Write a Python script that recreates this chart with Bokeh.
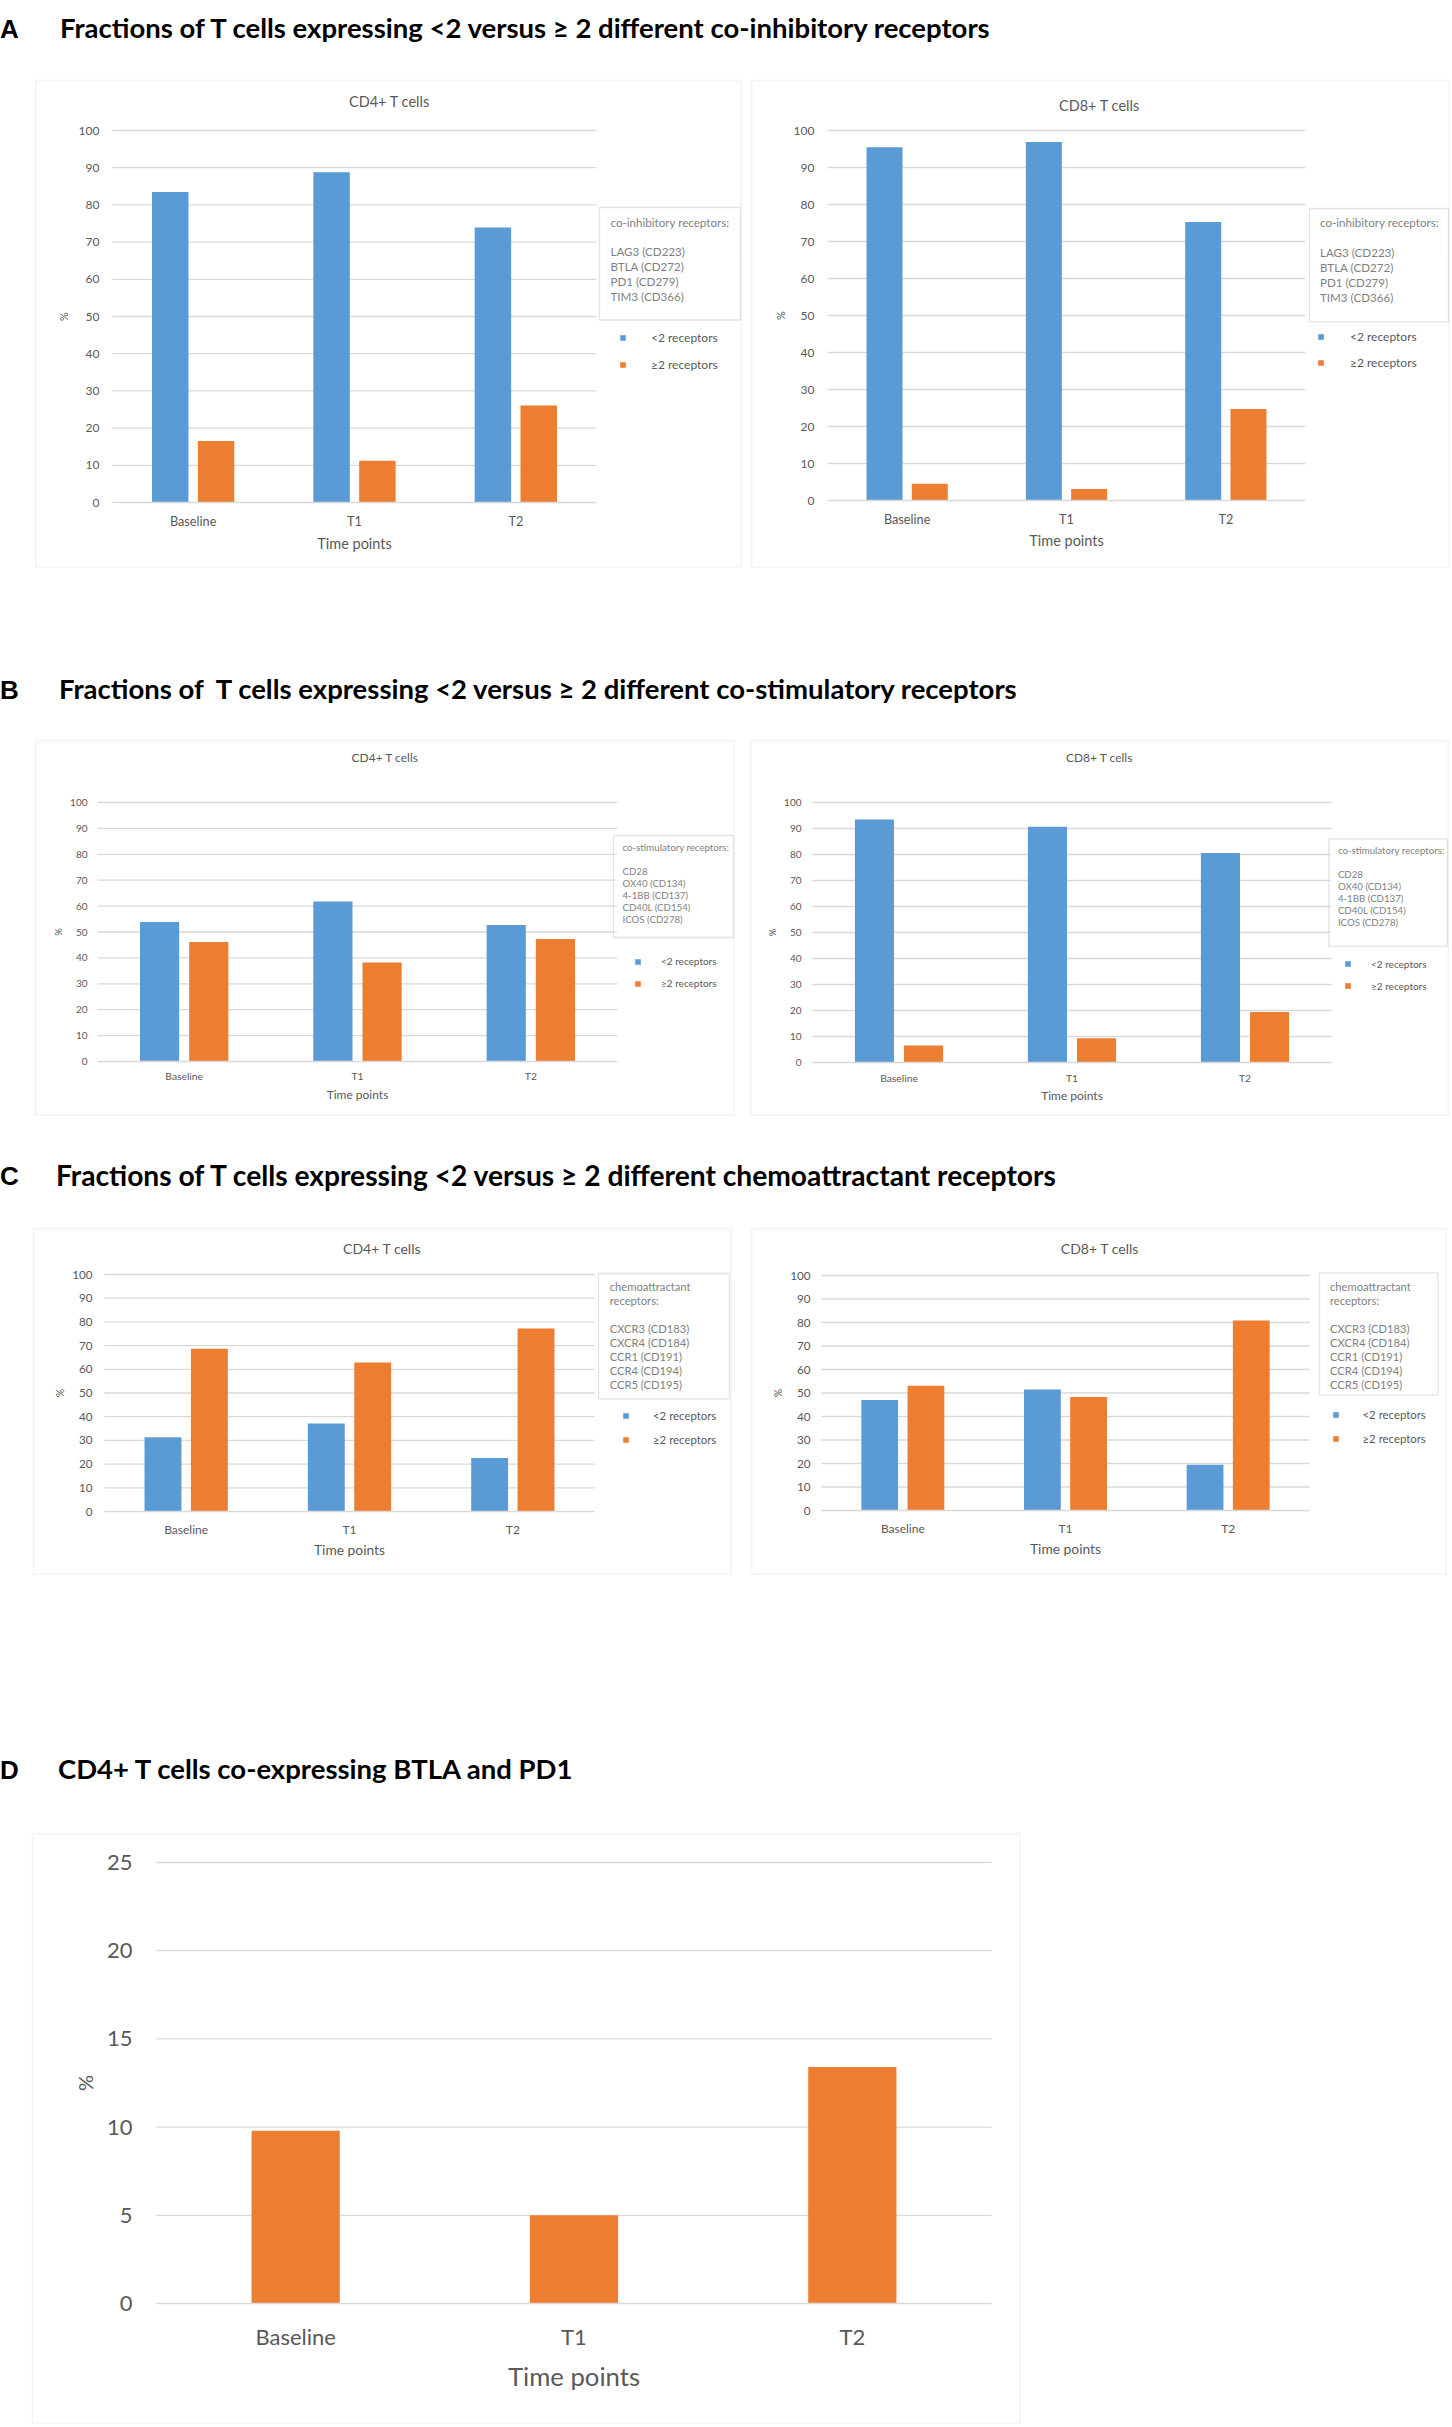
import math
from bokeh.plotting import figure
from bokeh.models import (ColumnDataSource, Range1d, FixedTicker, Legend,
                          LegendItem, Label, BoxAnnotation, Div, Spacer)
from bokeh.layouts import column, row
from bokeh.transform import dodge
from bokeh.embed import file_html
from bokeh.resources import INLINE

# ---------------- data ----------------
time_points = ["Baseline", "T1", "T2"]
series_names = ["<2 receptors", "\u22652 receptors"]

inhib_cd4_lt2 = [83.5, 88.8, 73.9]
inhib_cd4_ge2 = [16.5, 11.2, 26.1]
inhib_cd8_lt2 = [95.5, 96.9, 75.3]
inhib_cd8_ge2 = [4.5, 3.1, 24.7]

stim_cd4_lt2 = [53.9, 61.8, 52.7]
stim_cd4_ge2 = [46.1, 38.2, 47.3]
stim_cd8_lt2 = [93.5, 90.7, 80.6]
stim_cd8_ge2 = [6.5, 9.3, 19.4]

chemo_cd4_lt2 = [31.3, 37.1, 22.6]
chemo_cd4_ge2 = [68.7, 62.9, 77.2]
chemo_cd8_lt2 = [47.0, 51.5, 19.5]
chemo_cd8_ge2 = [53.1, 48.3, 80.8]

btla_pd1_cd4 = [9.8, 5.0, 13.4]

pct_ticks = [0, 10, 20, 30, 40, 50, 60, 70, 80, 90, 100]
d_ticks = [0, 5, 10, 15, 20, 25]

inhib_heading = ["co-inhibitory receptors:"]
inhib_receptors = ["LAG3 (CD223)", "BTLA (CD272)", "PD1 (CD279)", "TIM3 (CD366)"]
stim_heading = ["co-stimulatory receptors:"]
stim_receptors = ["CD28", "OX40 (CD134)", "4-1BB (CD137)", "CD40L (CD154)", "ICOS (CD278)"]
chemo_heading = ["chemoattractant", "receptors:"]
chemo_receptors = ["CXCR3 (CD183)", "CXCR4 (CD184)", "CCR1 (CD191)", "CCR4 (CD194)", "CCR5 (CD195)"]

panel_titles = ["CD4+ T cells", "CD8+ T cells"]
x_title = "Time points"
y_title = "%"
section_letters = ["A", "B", "C", "D"]
section_titles = [
    "Fractions of T cells expressing &lt;2 versus \u2265 2 different co-inhibitory receptors",
    "Fractions of&nbsp; T cells expressing &lt;2 versus \u2265 2 different co-stimulatory receptors",
    "Fractions of T cells expressing &lt;2 versus \u2265 2 different chemoattractant receptors",
    "CD4+ T cells co-expressing BTLA and PD1",
]

# ---------------- styles / geometry ----------------
BLUE = "#5B9BD5"
ORANGE = "#ED7D31"
GREY = "#595959"
LIGHT = "#7f7f7f"
GRID = "#d9d9d9"
BOXLINE = "#a6a6a6"
FONT = "Lato"
BAR_OFF = 0.142
BAR_W = 0.226
N_CAT = len(time_points)

FS = {
    "A": dict(tick=12, cat=12.7, title=14.5, xlab=14.5, ylab=11, box=11.6, leg=12),
    "B": dict(tick=10, cat=10.3, title=12, xlab=12, ylab=9.5, box=9.7, leg=10),
    "C": dict(tick=11.7, cat=12, title=14, xlab=13.8, ylab=10.5, box=11.2, leg=11.4),
    "D": dict(tick=22, cat=22, xlab=25.7, ylab=20),
}

# size = (W, H, plot_left, plot_top, plot_w, plot_h)  -- plot = gridline area (canvas px)
GEO = {
    "AL": dict(size=(708, 489, 78, 51, 484, 372), title=(355, 22.2), ystand=13, ylab_d=49, cat_d=18, xlab_d=41,
               tbox=(565, 128, 706, 240.5), tx=576, ty=143, tpitch=14.7,
               leg=(585, 259.3, 26.4), ltx=617),
    "AR": dict(size=(700, 489, 77, 51, 478, 370), title=(349, 25.8), ystand=13, ylab_d=47, cat_d=17.5, xlab_d=39.5,
               tbox=(559, 129, 698, 242.4), tx=569.5, ty=142.5, tpitch=15,
               leg=(567, 258.5, 25.5), ltx=600.5),
    "BL": dict(size=(701, 377, 63, 63, 520, 259), title=(350.6, 18), ystand=10, ylab_d=39.4, cat_d=14.6, xlab_d=32.6,
               tbox=(579, 96, 699, 198), tx=588, ty=107.7, tpitch=12,
               leg=(600, 222.5, 21.8), ltx=626.7),
    "BR": dict(size=(700, 377, 63, 63, 519, 260), title=(350, 18), ystand=11, ylab_d=39.8, cat_d=14.7, xlab_d=33,
               tbox=(579.4, 99.3, 698, 206.7), tx=588.4, ty=110.3, tpitch=12,
               leg=(595, 224.9, 21.8), ltx=622),
    "CL": dict(size=(700, 348, 72, 47, 490, 237), title=(349.7, 20.6), ystand=12, ylab_d=44.6, cat_d=17, xlab_d=38,
               tbox=(566, 46, 697, 171.3), tx=577.2, ty=58.6, tpitch=14,
               leg=(590, 187.7, 24.9), ltx=621),
    "CR": dict(size=(697, 348, 71, 48, 488, 235), title=(349.5, 21.4), ystand=11, ylab_d=43.5, cat_d=17, xlab_d=38,
               tbox=(569, 45.4, 687.5, 167.4), tx=579.5, ty=58.7, tpitch=14,
               leg=(581.5, 186.4, 24.6), ltx=612),
    "D": dict(size=(990, 592, 125, 30, 835, 441), ystand=24, ylab_d=72, cat_d=32, xlab_d=72.5),
}


def canvas_label(p, x, y, text, size, color, align="left", angle=0.0):
    p.add_layout(Label(x=x, y=y, x_units="canvas", y_units="canvas", text=text,
                       text_align=align, text_baseline="middle", text_font=FONT,
                       text_font_size=f"{size}px", text_color=color, angle=angle))


def canvas_box(p, x0, y0, x1, y1, line_color, line_width, fill_color=None):
    p.add_layout(BoxAnnotation(left=x0, right=x1, top=y0, bottom=y1,
                               left_units="canvas", right_units="canvas",
                               top_units="canvas", bottom_units="canvas",
                               fill_color=fill_color, line_color=line_color,
                               line_width=line_width))


def new_fig(g, y_max):
    """The frame covers the whole chart box; the axes are pinned (fixed_location)
    to the edges of the plotting area so that every annotation stays inside the frame."""
    W, H, L, T, PW, PH = g["size"]
    x0 = -N_CAT * L / PW
    x1 = N_CAT * (W - L) / PW
    y1 = y_max * (T + PH) / PH
    y0 = -y_max * (H - T - PH) / PH
    p = figure(width=W, height=H, x_range=Range1d(x0, x1), y_range=Range1d(y0, y1),
               output_backend="svg", toolbar_location=None, tools="",
               min_border=0, min_border_left=0, min_border_right=0, min_border_top=0,
               min_border_bottom=0, outline_line_color=None,
               background_fill_color="white", border_fill_color="white")
    canvas_box(p, 1, 1, W - 1, H - 1, GRID, 2)
    return p


def add_gridlines(p, ticks):
    src = ColumnDataSource(dict(y=[t for t in ticks if t != 0]))
    p.segment(x0=0, x1=N_CAT, y0="y", y1="y", source=src, line_color=GRID, line_width=1.3)


def style_axes(p, g, fs, ticks):
    W, H, L, T, PW, PH = g["size"]
    p.xgrid.grid_line_color = None
    p.ygrid.grid_line_color = None

    ya = p.yaxis[0]
    ya.fixed_location = 0
    ya.ticker = FixedTicker(ticks=ticks)
    ya.bounds = (ticks[0], ticks[-1])
    ya.axis_line_color = None
    ya.major_tick_line_color = None
    ya.minor_tick_line_color = None
    ya.major_tick_out = 0
    ya.major_tick_in = 0
    ya.minor_tick_out = 0
    ya.major_label_standoff = round(g["ystand"])
    ya.major_label_text_font = FONT
    ya.major_label_text_font_size = f"{fs['tick']}px"
    ya.major_label_text_color = GREY

    xa = p.xaxis[0]
    xa.fixed_location = 0
    xa.ticker = FixedTicker(ticks=[i + 0.5 for i in range(N_CAT)])
    xa.major_label_overrides = {i + 0.5: name for i, name in enumerate(time_points)}
    xa.bounds = (0, N_CAT)
    xa.axis_line_color = GRID
    xa.axis_line_width = 1.3
    xa.major_tick_line_color = None
    xa.minor_tick_line_color = None
    xa.major_tick_out = 0
    xa.major_tick_in = 0
    xa.minor_tick_out = 0
    xa.major_label_text_font = FONT
    xa.major_label_text_font_size = f"{fs['cat']}px"
    xa.major_label_text_color = GREY
    xa.major_label_standoff = max(0, round(g["cat_d"] - 0.6 * fs["cat"]))

    # axis titles
    canvas_label(p, L - g["ylab_d"], T + PH / 2, y_title, fs["ylab"], GREY, align="center",
                 angle=math.pi / 2)
    canvas_label(p, L + PW / 2, T + PH + g["xlab_d"], x_title, fs["xlab"], GREY, align="center")


def bar_panel(key, row_key, title, lt2, ge2, heading, receptors):
    g = GEO[key]
    fs = FS[row_key]
    W, H, L, T, PW, PH = g["size"]
    p = new_fig(g, 100)
    add_gridlines(p, pct_ticks)
    src = ColumnDataSource(dict(x=[i + 0.5 for i in range(N_CAT)], time=time_points, lt2=lt2, ge2=ge2))
    r1 = p.vbar(x=dodge("x", -BAR_OFF), top="lt2", width=BAR_W,
                source=src, fill_color=BLUE, line_color=None)
    r2 = p.vbar(x=dodge("x", BAR_OFF), top="ge2", width=BAR_W,
                source=src, fill_color=ORANGE, line_color=None)
    style_axes(p, g, fs, pct_ticks)

    # chart title
    canvas_label(p, g["title"][0], g["title"][1], title, fs["title"], GREY, align="center")

    # receptor text box
    x0, y0, x1, y1 = g["tbox"]
    canvas_box(p, x0, y0, x1, y1, BOXLINE, 1.3, fill_color="white")
    lines = heading + [""] + receptors
    for i, t in enumerate(lines):
        if t:
            canvas_label(p, g["tx"], g["ty"] + i * g["tpitch"], t, fs["box"], LIGHT)

    # legend
    mx, r1c, pitch = g["leg"]
    item_h = 1.2 * fs["leg"]
    legend_bottom = r1c + pitch + item_h / 2
    leg = Legend(items=[LegendItem(label=series_names[0], renderers=[r1]),
                        LegendItem(label=series_names[1], renderers=[r2])],
                 location=(mx, H - legend_bottom), orientation="vertical", border_line_color=None,
                 background_fill_alpha=0, padding=0, margin=0,
                 spacing=max(0, round(pitch - item_h)), glyph_width=7, glyph_height=7,
                 label_standoff=round(g["ltx"] - mx - 7), label_height=7,
                 label_text_font=FONT, label_text_font_size=f"{fs['leg']}px",
                 label_text_color=GREY)
    p.add_layout(leg)
    return p


def d_panel():
    g = GEO["D"]
    fs = FS["D"]
    p = new_fig(g, 25)
    add_gridlines(p, d_ticks)
    src = ColumnDataSource(dict(x=[i + 0.5 for i in range(N_CAT)], time=time_points, val=btla_pd1_cd4))
    p.vbar(x="x", top="val", width=0.317, source=src, fill_color=ORANGE, line_color=None)
    style_axes(p, g, fs, d_ticks)
    return p


def header(letter, title, height, cy, tx, size=27.5):
    html = (
        f'<div style="position:relative;width:1452px;height:{height}px;">'
        f'<span style="position:absolute;left:0px;top:{cy - 16}px;line-height:32px;'
        f'font-family:\'Liberation Sans\';font-weight:bold;font-size:26px;color:#000;">{letter}</span>'
        f'<span style="position:absolute;left:{tx}px;top:{cy - 17}px;line-height:32px;white-space:nowrap;'
        f'font-family:Lato;font-weight:bold;font-size:{size}px;color:#000;">{title}</span></div>'
    )
    return Div(text=html, width=1452, height=height, margin=0)


def sp(w, h):
    return Spacer(width=w, height=h, margin=0)


pAL = bar_panel("AL", "A", panel_titles[0], inhib_cd4_lt2, inhib_cd4_ge2, inhib_heading, inhib_receptors)
pAR = bar_panel("AR", "A", panel_titles[1], inhib_cd8_lt2, inhib_cd8_ge2, inhib_heading, inhib_receptors)
pBL = bar_panel("BL", "B", panel_titles[0], stim_cd4_lt2, stim_cd4_ge2, stim_heading, stim_receptors)
pBR = bar_panel("BR", "B", panel_titles[1], stim_cd8_lt2, stim_cd8_ge2, stim_heading, stim_receptors)
pCL = bar_panel("CL", "C", panel_titles[0], chemo_cd4_lt2, chemo_cd4_ge2, chemo_heading, chemo_receptors)
pCR = bar_panel("CR", "C", panel_titles[1], chemo_cd8_lt2, chemo_cd8_ge2, chemo_heading, chemo_receptors)
pD = d_panel()

layout = column(
    header(section_letters[0], section_titles[0], 79, 29, 60),
    row(sp(34, 489), pAL, sp(8, 489), pAR, spacing=0),
    header(section_letters[1], section_titles[1], 171, 122, 59),
    row(sp(34, 377), pBL, sp(14, 377), pBR, spacing=0),
    header(section_letters[2], section_titles[2], 111, 60, 56, size=28.2),
    row(sp(32, 348), pCL, sp(18, 348), pCR, spacing=0),
    header(section_letters[3], section_titles[3], 257, 195, 58),
    row(sp(31, 592), pD, spacing=0),
    spacing=0,
)

with open("out.html", "w", encoding="utf-8") as f:
    f.write(file_html(layout, INLINE))
